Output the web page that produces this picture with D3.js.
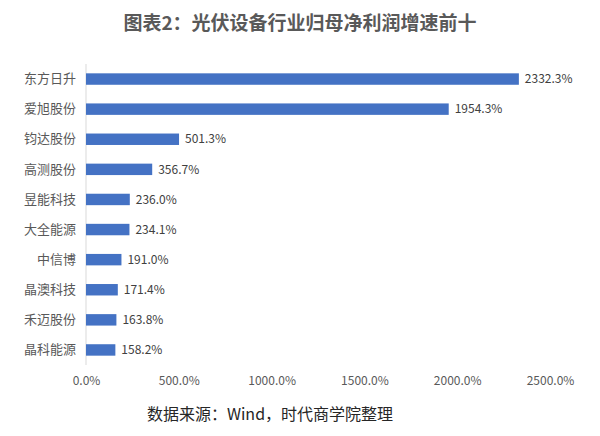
<!DOCTYPE html>
<html><head><meta charset="utf-8">
<script src="https://cdn.jsdelivr.net/npm/d3@7"></script>
<style>body{margin:0;background:#fff}</style>
</head><body><svg id="chart"></svg>
<script>
const names = ["东方日升","爱旭股份","钧达股份","高测股份","昱能科技","大全能源","中信博","晶澳科技","禾迈股份","晶科能源"];
const growth = [2332.3,1954.3,501.3,356.7,236.0,234.1,191.0,171.4,163.8,158.2];
const ticks = [0,500,1000,1500,2000,2500];

const width = 600, height = 436;
const margin = {top:64, right:50, bottom:70, left:86};
const font = "'Noto Sans CJK SC', sans-serif";

const svg = d3.select('#chart').attr('width', width).attr('height', height);

svg.append('text')
   .attr('x', 300).attr('y', 30)
   .attr('text-anchor', 'middle')
   .attr('font-family', font).attr('font-size', 19).attr('font-weight', 'bold')
   .attr('fill', '#595959')
   .text('图表2：光伏设备行业归母净利润增速前十');

const xscale = d3.scaleLinear().domain([0, 2500]).range([margin.left, 550]);
const yscale = d3.scaleBand().domain(names).range([margin.top, 365]).paddingInner(0.62).paddingOuter(0.31);

svg.append('line')
   .attr('x1', xscale(0)).attr('x2', xscale(0))
   .attr('y1', margin.top).attr('y2', 365)
   .attr('stroke', '#d9d9d9');

svg.selectAll('.bar').data(growth).enter().append('rect')
   .attr('x', xscale(0))
   .attr('y', (d, i) => yscale(names[i]))
   .attr('width', d => xscale(d) - xscale(0))
   .attr('height', yscale.bandwidth())
   .attr('fill', '#4472c4');

svg.selectAll('.val').data(growth).enter().append('text')
   .attr('x', d => xscale(d) + 6)
   .attr('y', (d, i) => yscale(names[i]) + yscale.bandwidth() / 2)
   .attr('dy', '0.35em')
   .attr('font-family', font).attr('font-size', 12).attr('fill', '#404040')
   .text(d => d.toFixed(1) + '%');

const yaxis = d3.axisLeft(yscale).tickSize(0).tickPadding(10);
svg.append('g').attr('transform', `translate(${margin.left},0)`).call(yaxis)
   .call(g => g.select('.domain').remove())
   .selectAll('text').attr('font-family', font).attr('font-size', 13).attr('fill', '#595959');

const xaxis = d3.axisBottom(xscale).tickValues(ticks).tickSize(0).tickPadding(0).tickFormat(d => d.toFixed(1) + '%');
svg.append('g').attr('transform', 'translate(0,376)').call(xaxis)
   .call(g => g.select('.domain').remove())
   .selectAll('text').attr('font-family', font).attr('font-size', 12).attr('fill', '#595959');

svg.append('text')
   .attr('x', 270).attr('y', 420)
   .attr('text-anchor', 'middle')
   .attr('font-family', font).attr('font-size', 16).attr('fill', '#262626')
   .text('数据来源：Wind，时代商学院整理');
</script></body></html>
